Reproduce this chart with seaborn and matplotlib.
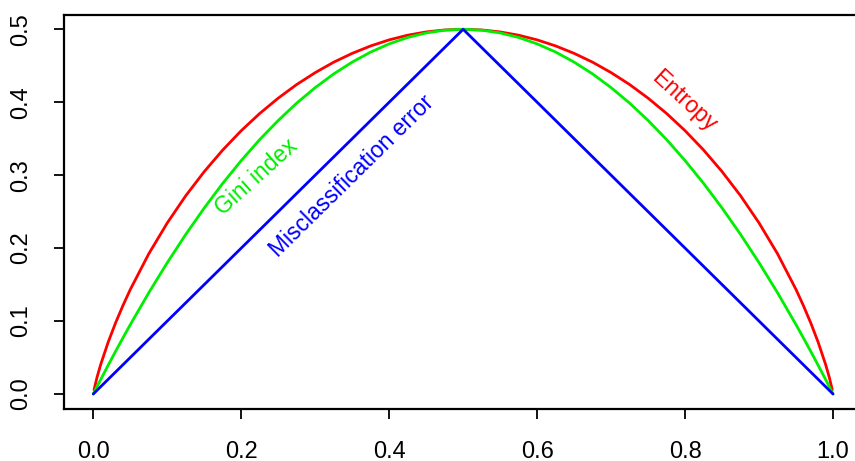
import matplotlib
matplotlib.use("Agg")
import matplotlib.pyplot as plt
import seaborn as sns

# Node impurity measures for a two-class node, as a function of class proportion p
p_entropy = [0.001, 0.005, 0.01, 0.02, 0.03, 0.04, 0.05, 0.075, 0.1, 0.125, 0.15, 0.175,
             0.2, 0.225, 0.25, 0.275, 0.3, 0.325, 0.35, 0.375, 0.4, 0.425, 0.45, 0.475,
             0.5, 0.525, 0.55, 0.575, 0.6, 0.625, 0.65, 0.675, 0.7, 0.725, 0.75, 0.775,
             0.8, 0.825, 0.85, 0.875, 0.9, 0.925, 0.95, 0.96, 0.97, 0.98, 0.99, 0.995, 0.999]
entropy = [0.0057, 0.0227, 0.0404, 0.0707, 0.0972, 0.1211, 0.1432, 0.1922, 0.2345, 0.2718,
           0.3049, 0.3345, 0.3610, 0.3846, 0.4056, 0.4243, 0.4406, 0.4549, 0.4670, 0.4772,
           0.4855, 0.4919, 0.4964, 0.4991, 0.5000, 0.4991, 0.4964, 0.4919, 0.4855, 0.4772,
           0.4670, 0.4549, 0.4406, 0.4243, 0.4056, 0.3846, 0.3610, 0.3345, 0.3049, 0.2718,
           0.2345, 0.1922, 0.1432, 0.1211, 0.0972, 0.0707, 0.0404, 0.0227, 0.0057]

p_gini = [0.0, 0.001, 0.005, 0.01, 0.02, 0.03, 0.04, 0.05, 0.075, 0.1, 0.125, 0.15, 0.175,
          0.2, 0.225, 0.25, 0.275, 0.3, 0.325, 0.35, 0.375, 0.4, 0.425, 0.45, 0.475,
          0.5, 0.525, 0.55, 0.575, 0.6, 0.625, 0.65, 0.675, 0.7, 0.725, 0.75, 0.775,
          0.8, 0.825, 0.85, 0.875, 0.9, 0.925, 0.95, 0.96, 0.97, 0.98, 0.99, 0.995, 0.999, 1.0]
gini = [0.0, 0.0020, 0.0100, 0.0198, 0.0392, 0.0582, 0.0768, 0.0950, 0.1388, 0.1800, 0.2188,
        0.2550, 0.2888, 0.3200, 0.3488, 0.3750, 0.3988, 0.4200, 0.4388, 0.4550, 0.4688,
        0.4800, 0.4888, 0.4950, 0.4988, 0.5000, 0.4988, 0.4950, 0.4888, 0.4800, 0.4688,
        0.4550, 0.4388, 0.4200, 0.3988, 0.3750, 0.3488, 0.3200, 0.2888, 0.2550, 0.2188,
        0.1800, 0.1388, 0.0950, 0.0768, 0.0582, 0.0392, 0.0198, 0.0100, 0.0020, 0.0]

p_error = [0.0, 0.5, 1.0]
error = [0.0, 0.5, 0.0]

x_ticks = [0.0, 0.2, 0.4, 0.6, 0.8, 1.0]
y_ticks = [0.0, 0.1, 0.2, 0.3, 0.4, 0.5]

RED, GREEN, BLUE = "#FF0000", "#00EE00", "#0000FF"

sns.set_style("ticks")
plt.rcParams["font.family"] = ["Liberation Sans", "DejaVu Sans"]

fig = plt.figure(figsize=(8.55, 4.61), dpi=100)
ax = fig.add_axes([0.0745, 0.1137, 0.9344, 0.8544])

lw = 2.0
line_kw = dict(linewidth=lw, sort=False, solid_joinstyle="round", solid_capstyle="round")
sns.lineplot(x=p_entropy, y=entropy, ax=ax, color=RED, **line_kw)
sns.lineplot(x=p_gini, y=gini, ax=ax, color=GREEN, **line_kw)
sns.lineplot(x=p_error, y=error, ax=ax, color=BLUE, **line_kw)

ax.set_xlim(-0.04, 1.04)
ax.set_ylim(-0.02, 0.52)
ax.set_xticks(x_ticks)
ax.set_yticks(y_ticks)
ax.set_xticklabels([f"{v:.1f}" for v in x_ticks])
ax.set_yticklabels([f"{v:.1f}" for v in y_ticks], rotation=90, va="center")
ax.tick_params(axis="both", labelsize=17, length=7, width=1.3, color="black",
               labelcolor="black", direction="out", pad=16)
for s in ax.spines.values():
    s.set_linewidth(1.6)
    s.set_color("black")
    s.set_visible(True)

ax.text(0.220, 0.297, "Gini index", color=GREEN, fontsize=16.5, rotation=42,
        ha="center", va="center", rotation_mode="anchor")
ax.text(0.349, 0.299, "Misclassification error", color=BLUE, fontsize=16.5,
        rotation=44.5, ha="center", va="center", rotation_mode="anchor")
ax.text(0.798, 0.402, "Entropy", color=RED, fontsize=16.5, rotation=-42.5,
        ha="center", va="center", rotation_mode="anchor")

fig.savefig("out.png", dpi=100)
